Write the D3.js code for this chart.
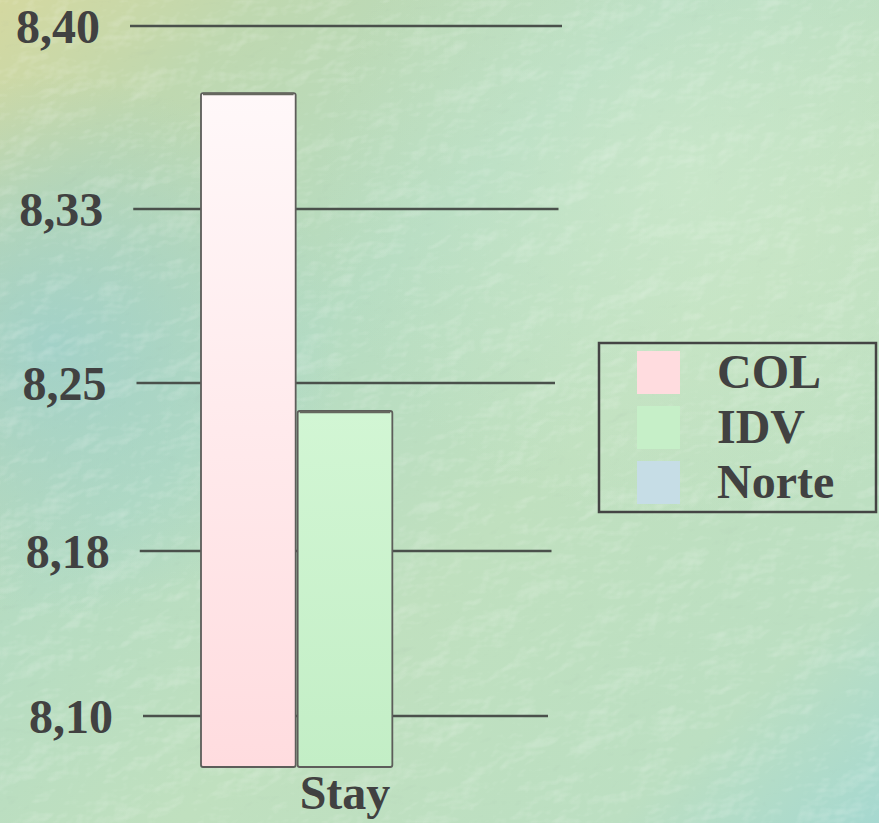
<!DOCTYPE html>
<html>
<head>
<meta charset="utf-8">
<script src="https://cdn.jsdelivr.net/npm/d3@7"></script>
<style>
  html, body { margin: 0; padding: 0; background: #bfe0c0; }
  svg { display: block; }
</style>
</head>
<body>
<svg id="chart" width="879" height="823"></svg>
<script>
// ---- data ----
const categories = ["Stay"];
const seriesNames = ["COL", "IDV", "Norte"];
const seriesValues = [8.3725, 8.2375, null]; // Norte falls below the axis floor
const seriesColors = ["#ffdcdf", "#c6efc8", "#c6dde6"];
const tickValues = [8.10, 8.175, 8.25, 8.325, 8.40];
const tickLabels = ["8,10", "8,18", "8,25", "8,33", "8,40"];
const axisFloor = 8.077;

// ---- layout ----
const W = 879, H = 823;
const svg = d3.select("#chart");
const defs = svg.append("defs");

// background: soft multi-tone green wash with a leathery texture
const bg1 = defs.append("linearGradient").attr("id", "bgWash")
  .attr("x1", "0").attr("y1", "0").attr("x2", "1").attr("y2", "1");
[["0%", "#d4d8a0"], ["15%", "#bfd8b0"], ["38%", "#b6dcc2"], ["60%", "#c0e0bf"], ["85%", "#bcdfc2"], ["100%", "#a6d8d0"]]
  .forEach(([o, c]) => bg1.append("stop").attr("offset", o).attr("stop-color", c));

const bgBlue = defs.append("radialGradient").attr("id", "bgBlue")
  .attr("cx", "0.06").attr("cy", "0.42").attr("r", "0.33");
bgBlue.append("stop").attr("offset", "0%").attr("stop-color", "#9ccfcc").attr("stop-opacity", 0.8);
bgBlue.append("stop").attr("offset", "100%").attr("stop-color", "#9ccfcc").attr("stop-opacity", 0);

const bgPale = defs.append("radialGradient").attr("id", "bgPale")
  .attr("cx", "0.78").attr("cy", "0.22").attr("r", "0.42");
bgPale.append("stop").attr("offset", "0%").attr("stop-color", "#d2ecd0").attr("stop-opacity", 0.6);
bgPale.append("stop").attr("offset", "100%").attr("stop-color", "#d2ecd0").attr("stop-opacity", 0);

// embossed noise split into a light layer (ridges) and a dark layer (creases)
function leatherFilter(id, matrix) {
  const f = defs.append("filter").attr("id", id)
    .attr("x", 0).attr("y", 0).attr("width", "100%").attr("height", "100%")
    .attr("filterUnits", "userSpaceOnUse");
  f.append("feTurbulence").attr("type", "fractalNoise")
    .attr("baseFrequency", "0.018 0.026").attr("numOctaves", 4).attr("seed", 11).attr("result", "noise");
  const l = f.append("feDiffuseLighting").attr("in", "noise")
    .attr("surfaceScale", 3.2).attr("diffuseConstant", 1).attr("lighting-color", "#ffffff").attr("result", "lit");
  l.append("feDistantLight").attr("azimuth", 225).attr("elevation", 45);
  f.append("feColorMatrix").attr("in", "lit").attr("type", "matrix").attr("values", matrix);
}
leatherFilter("ridges", "0 0 0 0 1  0 0 0 0 1  0 0 0 0 1  2.2 0 0 0 -1.55");
leatherFilter("creases", "0 0 0 0 0.25  0 0 0 0 0.35  0 0 0 0 0.3  -1.6 0 0 0 0.95");

svg.append("rect").attr("width", W).attr("height", H).attr("fill", "url(#bgWash)");
svg.append("rect").attr("width", W).attr("height", H).attr("fill", "url(#bgBlue)");
svg.append("rect").attr("width", W).attr("height", H).attr("fill", "url(#bgPale)");
svg.append("rect").attr("width", W).attr("height", H)
  .attr("filter", "url(#ridges)").attr("opacity", 0.55);
svg.append("rect").attr("width", W).attr("height", H)
  .attr("filter", "url(#creases)").attr("opacity", 0.3);

// ---- scales ----
// value axis has a slight perspective, so spacing widens towards the top
const y = d3.scaleLinear()
  .domain([axisFloor, ...tickValues])
  .range([767, 716, 551, 383, 209, 26]);

const gridLeft = d3.scaleLinear().domain([8.10, 8.40]).range([143, 130]);
const gridRight = d3.scaleLinear().domain([8.10, 8.40]).range([548, 562]);

const x0 = d3.scaleBand().domain(categories).range([200, 490]).padding(0);
const x1 = d3.scaleBand().domain(seriesNames).range([0, x0.bandwidth()]).padding(0);
const color = d3.scaleOrdinal().domain(seriesNames).range(seriesColors);

const fontFam = "'Liberation Serif', 'Times New Roman', serif";
const ink = "#414141";
const fontSize = 48;

// ---- gridlines and tick labels ----
const ticks = tickValues.map((v, i) => ({ v, label: tickLabels[i] }));

svg.append("g").selectAll("line").data(ticks).join("line")
  .attr("x1", d => gridLeft(d.v)).attr("x2", d => gridRight(d.v))
  .attr("y1", d => y(d.v)).attr("y2", d => y(d.v))
  .attr("stroke", "#4a504b").attr("stroke-width", 2.6);

svg.append("g").selectAll("text").data(ticks).join("text")
  .attr("x", d => gridLeft(d.v) - 30)
  .attr("y", d => y(d.v) + 17)
  .attr("text-anchor", "end")
  .attr("font-family", fontFam).attr("font-weight", "bold")
  .attr("font-size", fontSize).attr("fill", ink)
  .text(d => d.label);

// ---- bars ----
const pinkGrad = defs.append("linearGradient").attr("id", "gradCOL")
  .attr("x1", 0).attr("y1", 0).attr("x2", 0).attr("y2", 1);
pinkGrad.append("stop").attr("offset", "0%").attr("stop-color", "#fff8f9");
pinkGrad.append("stop").attr("offset", "100%").attr("stop-color", "#ffdcdf");

const greenGrad = defs.append("linearGradient").attr("id", "gradIDV")
  .attr("x1", 0).attr("y1", 0).attr("x2", 0).attr("y2", 1);
greenGrad.append("stop").attr("offset", "0%").attr("stop-color", "#d2f6d4");
greenGrad.append("stop").attr("offset", "100%").attr("stop-color", "#c3eec6");

const fills = { COL: "url(#gradCOL)", IDV: "url(#gradIDV)", Norte: color("Norte") };

const barData = [];
categories.forEach(cat => {
  seriesNames.forEach((s, i) => {
    if (seriesValues[i] != null) barData.push({ cat, s, v: seriesValues[i] });
  });
});

const bars = svg.append("g").selectAll("g").data(barData).join("g");

bars.append("rect")
  .attr("x", d => x0(d.cat) + x1(d.s) + 1)
  .attr("y", d => y(d.v))
  .attr("width", x1.bandwidth() - 2)
  .attr("height", d => y(axisFloor) - y(d.v))
  .attr("rx", 2)
  .attr("fill", d => fills[d.s])
  .attr("stroke", "#5d5d5a").attr("stroke-width", 1.8);

// darker bevel along the top edge of each bar
bars.append("line")
  .attr("x1", d => x0(d.cat) + x1(d.s) + 3)
  .attr("x2", d => x0(d.cat) + x1(d.s) + x1.bandwidth() - 3)
  .attr("y1", d => y(d.v) + 1).attr("y2", d => y(d.v) + 1)
  .attr("stroke", "#66675f").attr("stroke-width", 2.5);

// ---- category label ----
svg.append("g").selectAll("text").data(categories).join("text")
  .attr("x", d => x0(d) + x0.bandwidth() / 2)
  .attr("y", 809)
  .attr("text-anchor", "middle")
  .attr("font-family", fontFam).attr("font-weight", "bold")
  .attr("font-size", fontSize).attr("fill", ink)
  .text(d => d);

// ---- legend ----
const legend = svg.append("g");
legend.append("rect")
  .attr("x", 599).attr("y", 343).attr("width", 277).attr("height", 169)
  .attr("fill", "none").attr("stroke", "#444").attr("stroke-width", 2.5);

const items = legend.selectAll("g").data(seriesNames).join("g")
  .attr("transform", (d, i) => `translate(637, ${351 + i * 55})`);
items.append("rect")
  .attr("width", 43).attr("height", 43)
  .attr("fill", d => color(d));
items.append("text")
  .attr("x", 80).attr("y", 37)
  .attr("font-family", fontFam).attr("font-weight", "bold")
  .attr("font-size", fontSize).attr("fill", ink)
  .text(d => d);
</script>
</body>
</html>
